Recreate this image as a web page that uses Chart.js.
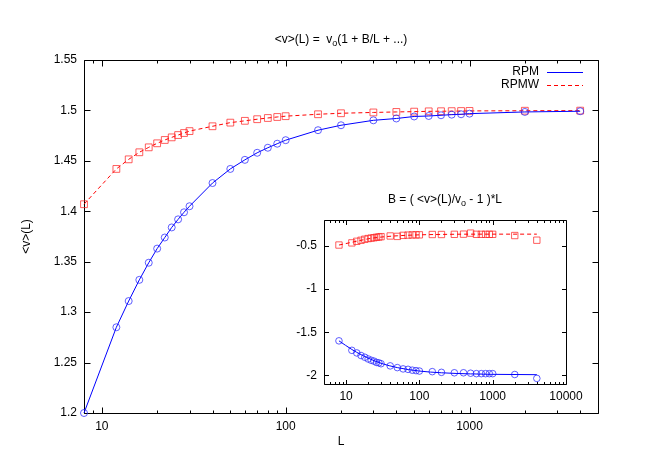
<!DOCTYPE html>
<html>
<head>
<meta charset="utf-8">
<title>&lt;v&gt;(L)</title>
<script src="https://cdn.jsdelivr.net/npm/chart.js@4.4.1/dist/chart.umd.min.js"></script>
<style>
  html, body { margin: 0; padding: 0; background: #fff; }
  #wrap { position: relative; width: 650px; height: 455px; }
  #mainCanvas { position: absolute; left: 0; top: 0; }
  #insetCanvas { position: absolute; left: 280px; top: 185px; }
</style>
</head>
<body>
<div id="wrap">
  <canvas id="mainCanvas" width="650" height="455"></canvas>
  <canvas id="insetCanvas" width="310" height="225"></canvas>
</div>
<script>
// system sizes L
const sizes = [8, 12, 14, 16, 18, 20, 22, 24, 26, 28, 30, 40, 50, 60, 70, 80, 90, 100,
  150, 200, 300, 400, 500, 600, 700, 800, 900, 1000, 2000, 4000];

// <v>(L), main plot
const rpm = [1.200, 1.285, 1.311, 1.332, 1.349, 1.363, 1.374, 1.384, 1.392, 1.399, 1.405,
  1.428, 1.442, 1.451, 1.458, 1.463, 1.467, 1.4705, 1.4804, 1.4853, 1.4902, 1.492, 1.4940,
  1.4945, 1.4952, 1.4958, 1.4962, 1.4968, 1.4985, 1.4992];
const rpmw = [1.407, 1.442, 1.4515, 1.4585, 1.4634, 1.4674, 1.4707, 1.4733, 1.4756, 1.4776,
  1.4795, 1.4843, 1.4879, 1.4897, 1.4913, 1.4925, 1.4935, 1.4943, 1.4962, 1.4972, 1.4980,
  1.4985, 1.4988, 1.4991, 1.4992, 1.4993, 1.4994, 1.4995, 1.4997, 1.4998];

// B = (<v>(L)/vo - 1)*L, inset
const bRpm = [-1.60, -1.71, -1.74, -1.77, -1.79, -1.81, -1.825, -1.835, -1.85, -1.855, -1.865,
  -1.89, -1.91, -1.925, -1.93, -1.94, -1.945, -1.95, -1.957, -1.965, -1.97, -1.97, -1.975,
  -1.98, -1.98, -1.98, -1.98, -1.98, -1.99, -2.035];
const bRpmw = [-0.49, -0.465, -0.447, -0.435, -0.423, -0.415, -0.41, -0.405, -0.40, -0.397,
  -0.393, -0.385, -0.39, -0.378, -0.375, -0.373, -0.372, -0.372, -0.368, -0.368, -0.366,
  -0.364, -0.352, -0.366, -0.366, -0.366, -0.366, -0.366, -0.38, -0.434];

// fitted curves in the inset
const fitL = [8, 12, 16, 20, 30, 50, 100, 200, 500, 1000, 4000];
const fitRpm = [-1.60, -1.70, -1.76, -1.80, -1.86, -1.91, -1.95, -1.97, -1.983, -1.988, -1.992];
const fitRpmw = [-0.49, -0.458, -0.435, -0.418, -0.398, -0.383, -0.372, -0.367, -0.364, -0.364, -0.364];

// ticks
const mainXTicks = [10, 100, 1000];
const mainYTicks = [1.2, 1.25, 1.3, 1.35, 1.4, 1.45, 1.5, 1.55];
const insetXTicks = [10, 100, 1000, 10000];
const insetYTicks = [-2, -1.5, -1, -0.5];

const FONT = '"Liberation Sans", Arial, sans-serif';
const BLUE = '#0000ff';
const RED = '#ff0000';
// markers come out lighter than the lines in the original
const BLUE_PT = 'rgba(40,40,255,0.75)';
const RED_PT = 'rgba(255,40,40,0.75)';

Chart.defaults.font.family = FONT;
Chart.defaults.font.size = 12;
Chart.defaults.color = '#000';

function xy(xs, ys) {
  return xs.map((x, i) => ({ x: x, y: ys[i] }));
}

// gnuplot style border with inward ticks on all four sides
function makeFrame(major, minor) {
  return {
    id: 'frame',
    beforeDatasetsDraw(chart) {
      const { ctx, chartArea: a, scales: { x, y } } = chart;
      const L = Math.round(a.left) + 0.5, R = Math.round(a.right) + 0.5;
      const T = Math.round(a.top) + 0.5, B = Math.round(a.bottom) + 0.5;
      ctx.save();
      ctx.strokeStyle = '#000';
      ctx.lineWidth = 1;
      ctx.beginPath();
      ctx.rect(L, T, R - L, B - T);
      const e0 = Math.floor(Math.log10(x.min));
      const e1 = Math.ceil(Math.log10(x.max));
      for (let e = e0; e <= e1; e++) {
        for (let k = 1; k < 10; k++) {
          const v = k * Math.pow(10, e);
          if (v < x.min || v > x.max) continue;
          const px = Math.round(x.getPixelForValue(v)) + 0.5;
          const len = k === 1 ? major : minor;
          ctx.moveTo(px, B);
          ctx.lineTo(px, B - len);
          ctx.moveTo(px, T);
          ctx.lineTo(px, T + len);
        }
      }
      y.ticks.forEach(t => {
        const py = Math.round(y.getPixelForValue(t.value)) + 0.5;
        ctx.moveTo(L, py);
        ctx.lineTo(L + major, py);
        ctx.moveTo(R, py);
        ctx.lineTo(R - major, py);
      });
      ctx.stroke();
      ctx.restore();
    }
  };
}

// title text with a subscript part
function makeTitle(parts, y) {
  return {
    id: 'subTitle',
    afterDraw(chart) {
      const { ctx, chartArea: a } = chart;
      ctx.save();
      ctx.fillStyle = '#000';
      ctx.textBaseline = 'middle';
      ctx.textAlign = 'left';
      let total = 0;
      const widths = parts.map(p => {
        ctx.font = (p.sub ? 9 : 12) + 'px ' + FONT;
        const w = ctx.measureText(p.text).width;
        total += w;
        return w;
      });
      let x = (a.left + a.right) / 2 - total / 2;
      parts.forEach((p, i) => {
        ctx.font = (p.sub ? 9 : 12) + 'px ' + FONT;
        ctx.fillText(p.text, x, p.sub ? y + 4 : y);
        x += widths[i];
      });
      ctx.restore();
    }
  };
}

// key in the top right corner: text then line sample
const keyItems = [
  { label: 'RPM', color: BLUE, dash: [] },
  { label: 'RPMW', color: RED, dash: [4, 3] }
];
const keyBox = {
  id: 'keyBox',
  afterDraw(chart) {
    const { ctx, chartArea: a } = chart;
    keyItems.forEach((k, i) => {
      const y = Math.round(a.top) + 12 + i * 13;
      ctx.save();
      ctx.font = '12px ' + FONT;
      ctx.textAlign = 'right';
      ctx.textBaseline = 'middle';
      ctx.fillStyle = '#000';
      ctx.fillText(k.label, a.right - 59, y);
      ctx.strokeStyle = k.color;
      ctx.lineWidth = 1;
      ctx.setLineDash(k.dash);
      ctx.beginPath();
      ctx.moveTo(Math.round(a.right) - 51, y + 0.5);
      ctx.lineTo(Math.round(a.right) - 15, y + 0.5);
      ctx.stroke();
      ctx.restore();
    });
  }
};

new Chart(document.getElementById('mainCanvas'), {
  type: 'scatter',
  data: {
    datasets: [
      {
        label: 'RPM',
        data: xy(sizes, rpm),
        showLine: true,
        borderColor: BLUE,
        borderWidth: 1,
        pointStyle: 'circle',
        pointRadius: 3.5,
        pointBorderWidth: 1,
        pointBorderColor: BLUE_PT,
        pointBackgroundColor: 'rgba(0,0,0,0)',
        clip: false
      },
      {
        label: 'RPMW',
        data: xy(sizes, rpmw),
        showLine: true,
        borderColor: RED,
        borderWidth: 1,
        borderDash: [4, 3],
        pointStyle: 'rect',
        pointRadius: 4.8,
        pointBorderWidth: 1,
        pointBorderColor: RED_PT,
        pointBackgroundColor: 'rgba(0,0,0,0)',
        clip: false
      }
    ]
  },
  options: {
    responsive: false,
    animation: false,
    events: [],
    layout: { padding: { top: 60, right: 52, left: 0, bottom: 0 } },
    plugins: { legend: { display: false }, tooltip: { enabled: false } },
    scales: {
      x: {
        type: 'logarithmic',
        min: 8,
        max: 5000,
        grid: { display: false, drawTicks: false },
        border: { display: false },
        ticks: { padding: 6, autoSkip: false, maxRotation: 0, callback: v => String(v) },
        afterBuildTicks: s => { s.ticks = mainXTicks.map(v => ({ value: v })); },
        afterFit: s => { s.height = 42; },
        title: { display: true, text: 'L', padding: { top: 0, bottom: 6 } }
      },
      y: {
        min: 1.2,
        max: 1.55,
        grid: { display: false, drawTicks: false },
        border: { display: false },
        ticks: { padding: 7, callback: v => String(v) },
        afterBuildTicks: s => { s.ticks = mainYTicks.map(v => ({ value: v })); },
        afterFit: s => { s.width = 84; },
        title: { display: true, text: '<v>(L)', padding: { top: 19, bottom: 0 } }
      }
    }
  },
  plugins: [
    makeFrame(6, 3),
    makeTitle([{ text: '<v>(L) =  v' }, { text: 'o', sub: true }, { text: '(1 + B/L + ...)' }], 40),
    keyBox
  ]
});

new Chart(document.getElementById('insetCanvas'), {
  type: 'scatter',
  data: {
    datasets: [
      {
        label: 'RPM fit',
        data: xy(fitL, fitRpm),
        showLine: true,
        borderColor: BLUE,
        borderWidth: 1,
        pointRadius: 0,
        cubicInterpolationMode: 'monotone'
      },
      {
        label: 'RPMW fit',
        data: xy(fitL, fitRpmw),
        showLine: true,
        borderColor: RED,
        borderWidth: 1,
        borderDash: [4, 3],
        pointRadius: 0,
        cubicInterpolationMode: 'monotone'
      },
      {
        label: 'RPM',
        data: xy(sizes, bRpm),
        showLine: false,
        pointStyle: 'circle',
        pointRadius: 3.3,
        pointBorderWidth: 1,
        pointBorderColor: BLUE_PT,
        pointBackgroundColor: 'rgba(0,0,0,0)',
        clip: false
      },
      {
        label: 'RPMW',
        data: xy(sizes, bRpmw),
        showLine: false,
        pointStyle: 'rect',
        pointRadius: 4.5,
        pointBorderWidth: 1,
        pointBorderColor: RED_PT,
        pointBackgroundColor: 'rgba(0,0,0,0)',
        clip: false
      }
    ]
  },
  options: {
    responsive: false,
    animation: false,
    events: [],
    layout: { padding: { top: 35, right: 24, left: 0, bottom: 0 } },
    plugins: { legend: { display: false }, tooltip: { enabled: false } },
    scales: {
      x: {
        type: 'logarithmic',
        min: 5,
        max: 10000,
        grid: { display: false, drawTicks: false },
        border: { display: false },
        ticks: { padding: 5, autoSkip: false, maxRotation: 0, callback: v => String(v) },
        afterBuildTicks: s => { s.ticks = insetXTicks.map(v => ({ value: v })); },
        afterFit: s => { s.height = 26; }
      },
      y: {
        min: -2.1,
        max: -0.2,
        grid: { display: false, drawTicks: false },
        border: { display: false },
        ticks: { padding: 7, callback: v => String(v) },
        afterBuildTicks: s => { s.ticks = insetYTicks.map(v => ({ value: v })); },
        afterFit: s => { s.width = 44; }
      }
    }
  },
  plugins: [
    makeFrame(4.5, 2.5),
    makeTitle([{ text: 'B = ( <v>(L)/v' }, { text: 'o', sub: true }, { text: ' - 1 )*L' }], 15)
  ]
});
</script>
</body>
</html>
